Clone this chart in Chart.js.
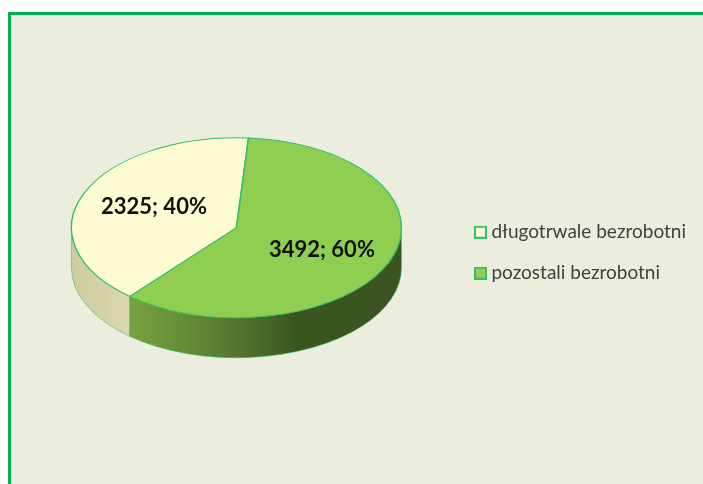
<!DOCTYPE html>
<html>
<head>
<meta charset="utf-8">
<style>
  html, body { margin: 0; padding: 0; background: #fff; overflow: hidden; }
  #panel { position: absolute; left: 8px; top: 12px; width: 695px; height: 472px; box-sizing: border-box;
    background: #ebeedf; border-left: 3px solid #00b050; border-top: 3px solid #00b050; }
  #wrap { position: absolute; left: 0; top: 0; width: 703px; height: 484px; }
</style>
</head>
<body>
<div id="panel"></div>
<div id="wrap"><canvas id="chart" width="703" height="484"></canvas></div>
<script src="https://cdn.jsdelivr.net/npm/chart.js@4"></script>
<script>
const categories = ['długotrwale bezrobotni', 'pozostali bezrobotni'];
const values = [2325, 3492];
const percents = [40, 60];

const TILT_RY = 90;
const DEPTH = 40;
const PIE_SHIFT_Y = -25;

const faceColors = ['#fdfbd2', '#8fce50'];
const edgeColor = '#36bf68';

function sideFill(ctx, index, left, right) {
  const g = ctx.createLinearGradient(left, 0, right, 0);
  if (index === 0) {
    g.addColorStop(0, '#cfcb9f');
    g.addColorStop(1, '#dcd8b0');
  } else {
    g.addColorStop(0, '#78a33f');
    g.addColorStop(0.36, '#567a30');
    g.addColorStop(0.62, '#3a5520');
    g.addColorStop(1, '#3a5520');
  }
  return g;
}

// legend marker as a small canvas, so the text can sit closer than boxWidth allows
function swatch(color) {
  const c = document.createElement('canvas');
  c.width = 13;
  c.height = 13;
  const g = c.getContext('2d');
  g.fillStyle = color;
  g.fillRect(1, 1, 11, 11);
  g.strokeStyle = edgeColor;
  g.lineWidth = 2;
  g.strokeRect(1, 1, 11, 11);
  return c;
}

// squash the round pie to an ellipse and draw the wall under it
const tiltPlugin = {
  id: 'tiltPlugin',
  beforeDatasetsDraw(chart) {
    const { ctx } = chart;
    const arcs = chart.getDatasetMeta(0).data;
    const { x, y, outerRadius: rx } = arcs[0];
    const cy = y + PIE_SHIFT_Y;
    ctx.save();
    arcs.forEach((arc, i) => {
      let from = Math.max(arc.startAngle, 0);
      let to = Math.min(arc.endAngle, Math.PI);
      if (arc.startAngle > Math.PI) {
        // slice runs over the 3 o'clock point, only the part before pi counts
        from = Math.max(arc.startAngle - Math.PI * 2, 0);
        to = Math.min(arc.endAngle - Math.PI * 2, Math.PI);
      }
      if (to <= from) return;
      const left = x + Math.cos(to) * rx;
      const right = x + Math.cos(from) * rx;
      ctx.beginPath();
      ctx.ellipse(x, cy, rx, TILT_RY, 0, from, to);
      ctx.ellipse(x, cy + DEPTH, rx, TILT_RY, 0, to, from, true);
      ctx.closePath();
      ctx.fillStyle = sideFill(ctx, i, left, right);
      ctx.fill();
      ctx.strokeStyle = 'rgba(54,191,104,0.55)';
      ctx.lineWidth = 1;
      ctx.stroke();
    });
    ctx.restore();

    ctx.save();
    ctx.translate(x, cy);
    ctx.scale(1, TILT_RY / rx);
    ctx.translate(-x, -y);
  },
  afterDatasetsDraw(chart) {
    const { ctx } = chart;
    ctx.restore();

    const arcs = chart.getDatasetMeta(0).data;
    ctx.save();
    ctx.font = 'bold 22px Lato';
    ctx.fillStyle = '#111';
    ctx.textAlign = 'center';
    ctx.textBaseline = 'middle';
    arcs.forEach((arc, i) => {
      const mid = (arc.startAngle + arc.endAngle) / 2;
      const px = arc.x + 1.5 + Math.cos(mid) * arc.outerRadius * 0.55;
      const py = arc.y + PIE_SHIFT_Y + 0.5 + Math.sin(mid) * TILT_RY * 0.64;
      ctx.fillText(values[i] + '; ' + percents[i] + '%', px, py);
    });
    ctx.restore();
  },
};

new Chart(document.getElementById('chart'), {
  type: 'pie',
  data: {
    labels: categories,
    datasets: [{
      data: values,
      backgroundColor: faceColors,
      borderColor: edgeColor,
      borderWidth: 1.5,
    }],
  },
  options: {
    responsive: false,
    animation: false,
    rotation: 220.3,
    layout: { padding: { left: 16, right: 7, top: 87, bottom: 65.5 } },
    plugins: {
      tooltip: { enabled: false },
      legend: {
        position: 'right',
        labels: {
          usePointStyle: true,
          pointStyleWidth: 3,
          boxHeight: 13,
          padding: 22,
          color: '#3f3f3f',
          font: { family: 'Lato', size: 19 },
          generateLabels() {
            return categories.map((text, i) => ({
              text,
              pointStyle: swatch(faceColors[i]),
              fontColor: '#3f3f3f',
              index: i,
            }));
          },
        },
      },
    },
  },
  plugins: [tiltPlugin],
});
</script>
</body>
</html>
